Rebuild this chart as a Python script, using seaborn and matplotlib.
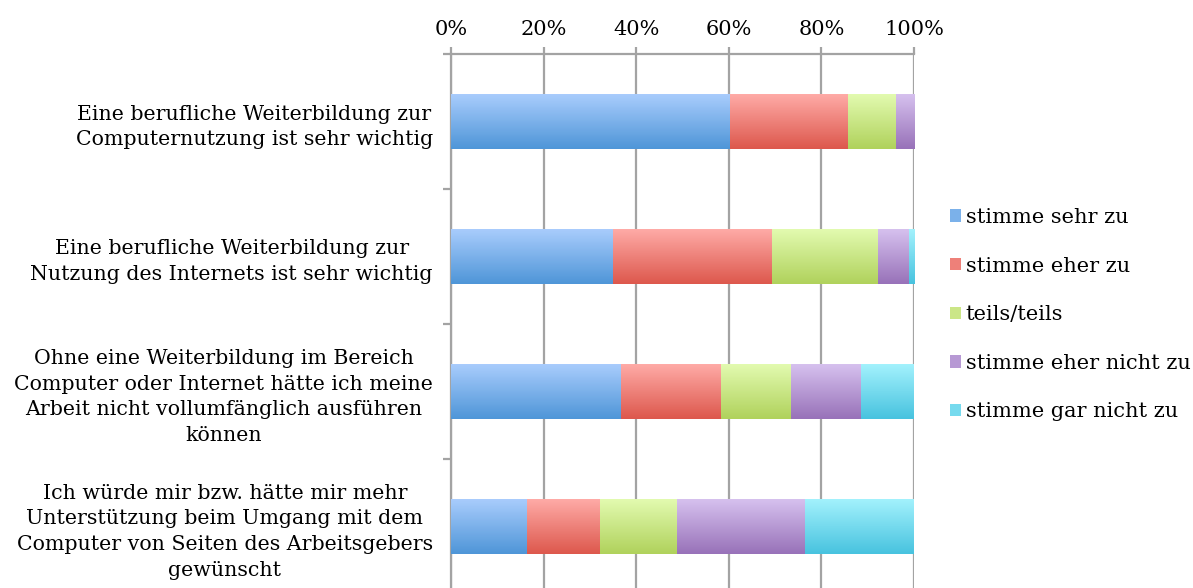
import numpy as np
import pandas as pd
import matplotlib
matplotlib.use('Agg')
import matplotlib.pyplot as plt
import matplotlib.colors as mcolors
from matplotlib.patches import Patch
import seaborn as sns

# data (percent shares)
statements = [
    'Eine berufliche Weiterbildung zur\nComputernutzung ist sehr wichtig',
    'Eine berufliche Weiterbildung zur\nNutzung des Internets ist sehr wichtig',
    'Ohne eine Weiterbildung im Bereich\nComputer oder Internet hätte ich meine\nArbeit nicht vollumfänglich ausführen\nkönnen',
    'Ich würde mir bzw. hätte mir mehr\nUnterstützung beim Umgang mit dem\nComputer von Seiten des Arbeitsgebers\ngewünscht',
]
answers = ['stimme sehr zu', 'stimme eher zu', 'teils/teils',
           'stimme eher nicht zu', 'stimme gar nicht zu']
sehr_zu = [60.2, 35.0, 36.7, 16.4]
eher_zu = [25.5, 34.3, 21.6, 15.8]
teils = [10.4, 22.9, 15.1, 16.6]
eher_nicht = [3.9, 6.7, 15.2, 27.7]
gar_nicht = [0.0, 1.1, 11.4, 23.5]
tick_labels = ['0%', '20%', '40%', '60%', '80%', '100%']

# gradient colours (top, bottom) per answer
top_cols = ['#aacdfd', '#ffaca8', '#e3fbb1', '#d7c2ef', '#a4f2fd']
bot_cols = ['#4f96d8', '#dd584d', '#b0d25c', '#9872b9', '#48c3df']
mid_cols = ['#7bb1ea', '#ee8079', '#cbe687', '#b799d4', '#76daee']

df = pd.DataFrame({'statement': statements,
                   answers[0]: sehr_zu, answers[1]: eher_zu, answers[2]: teils,
                   answers[3]: eher_nicht, answers[4]: gar_nicht})

plt.rcParams['font.family'] = ['DejaVu Serif', 'Liberation Serif']
fs = 14.75
fig = plt.figure(figsize=(11.93, 5.88), dpi=100)
ax = fig.add_axes([451 / 1193, -6 / 588, 463 / 1193, 540 / 588])

# draw one seaborn bar layer per answer, then shift each bar to its stacked start
left = np.zeros(len(statements))
for i, a in enumerate(answers):
    n_before = len(ax.patches)
    sns.barplot(data=df, x=a, y='statement', orient='h', color=mid_cols[i],
                width=0.41, ax=ax, linewidth=0, saturation=1)
    for j, p in enumerate(ax.patches[n_before:]):
        p.set_x(left[j])
    left += df[a].values

ylim = ax.get_ylim()

# gradient fill clipped to each bar
for i, a in enumerate(answers):
    cmap = mcolors.LinearSegmentedColormap.from_list('g', [top_cols[i], bot_cols[i]])
    grad = np.linspace(0, 1, 64).reshape(-1, 1)
    for p in ax.patches[i * 4:(i + 1) * 4]:
        if p.get_width() <= 0:
            continue
        x0, y0 = p.get_x(), p.get_y()
        x1, y1 = x0 + p.get_width(), y0 + p.get_height()
        im = ax.imshow(grad, cmap=cmap, aspect='auto', origin='upper',
                       extent=(x0, x1, y1, y0), zorder=3, interpolation='bilinear')
        im.set_clip_path(p)

ax.set_xlim(0, 100)
ax.set_ylim(ylim)

# axes styling
grid_col = '#a3a3a3'
ax.xaxis.tick_top()
ax.set_xticks([0, 20, 40, 60, 80, 100])
ax.set_xticklabels(tick_labels)
ax.grid(axis='x', color=grid_col, linewidth=1.6, zorder=0)
ax.set_axisbelow(True)
for s in ['right', 'bottom']:
    ax.spines[s].set_visible(False)
for s in ['top', 'left']:
    ax.spines[s].set_color(grid_col)
    ax.spines[s].set_linewidth(1.6)
ax.tick_params(axis='x', which='major', direction='out', length=5, width=1.6,
               color=grid_col, labelsize=15, pad=6)
ax.set_yticks(np.arange(len(statements)))
ax.set_yticks(np.arange(len(statements) + 1) - 0.5, minor=True)
ax.tick_params(axis='y', which='major', length=0, labelsize=fs, pad=13)
ax.tick_params(axis='y', which='minor', length=6, width=1.6, color=grid_col)
for lab in ax.get_yticklabels():
    lab.set_multialignment('center')
    lab.set_linespacing(1.45)
ax.set_xlabel('')
ax.set_ylabel('')

handles = [Patch(facecolor=mid_cols[i], edgecolor='none') for i in range(len(answers))]
fig.legend(handles, answers, loc='upper left', bbox_to_anchor=(950 / 1193, 1 - 208 / 588),
           frameon=False, fontsize=15, handlelength=0.55, handleheight=0.55,
           handletextpad=0.2, labelspacing=1.42, borderaxespad=0, borderpad=0)

fig.savefig('out.png', dpi=100)
